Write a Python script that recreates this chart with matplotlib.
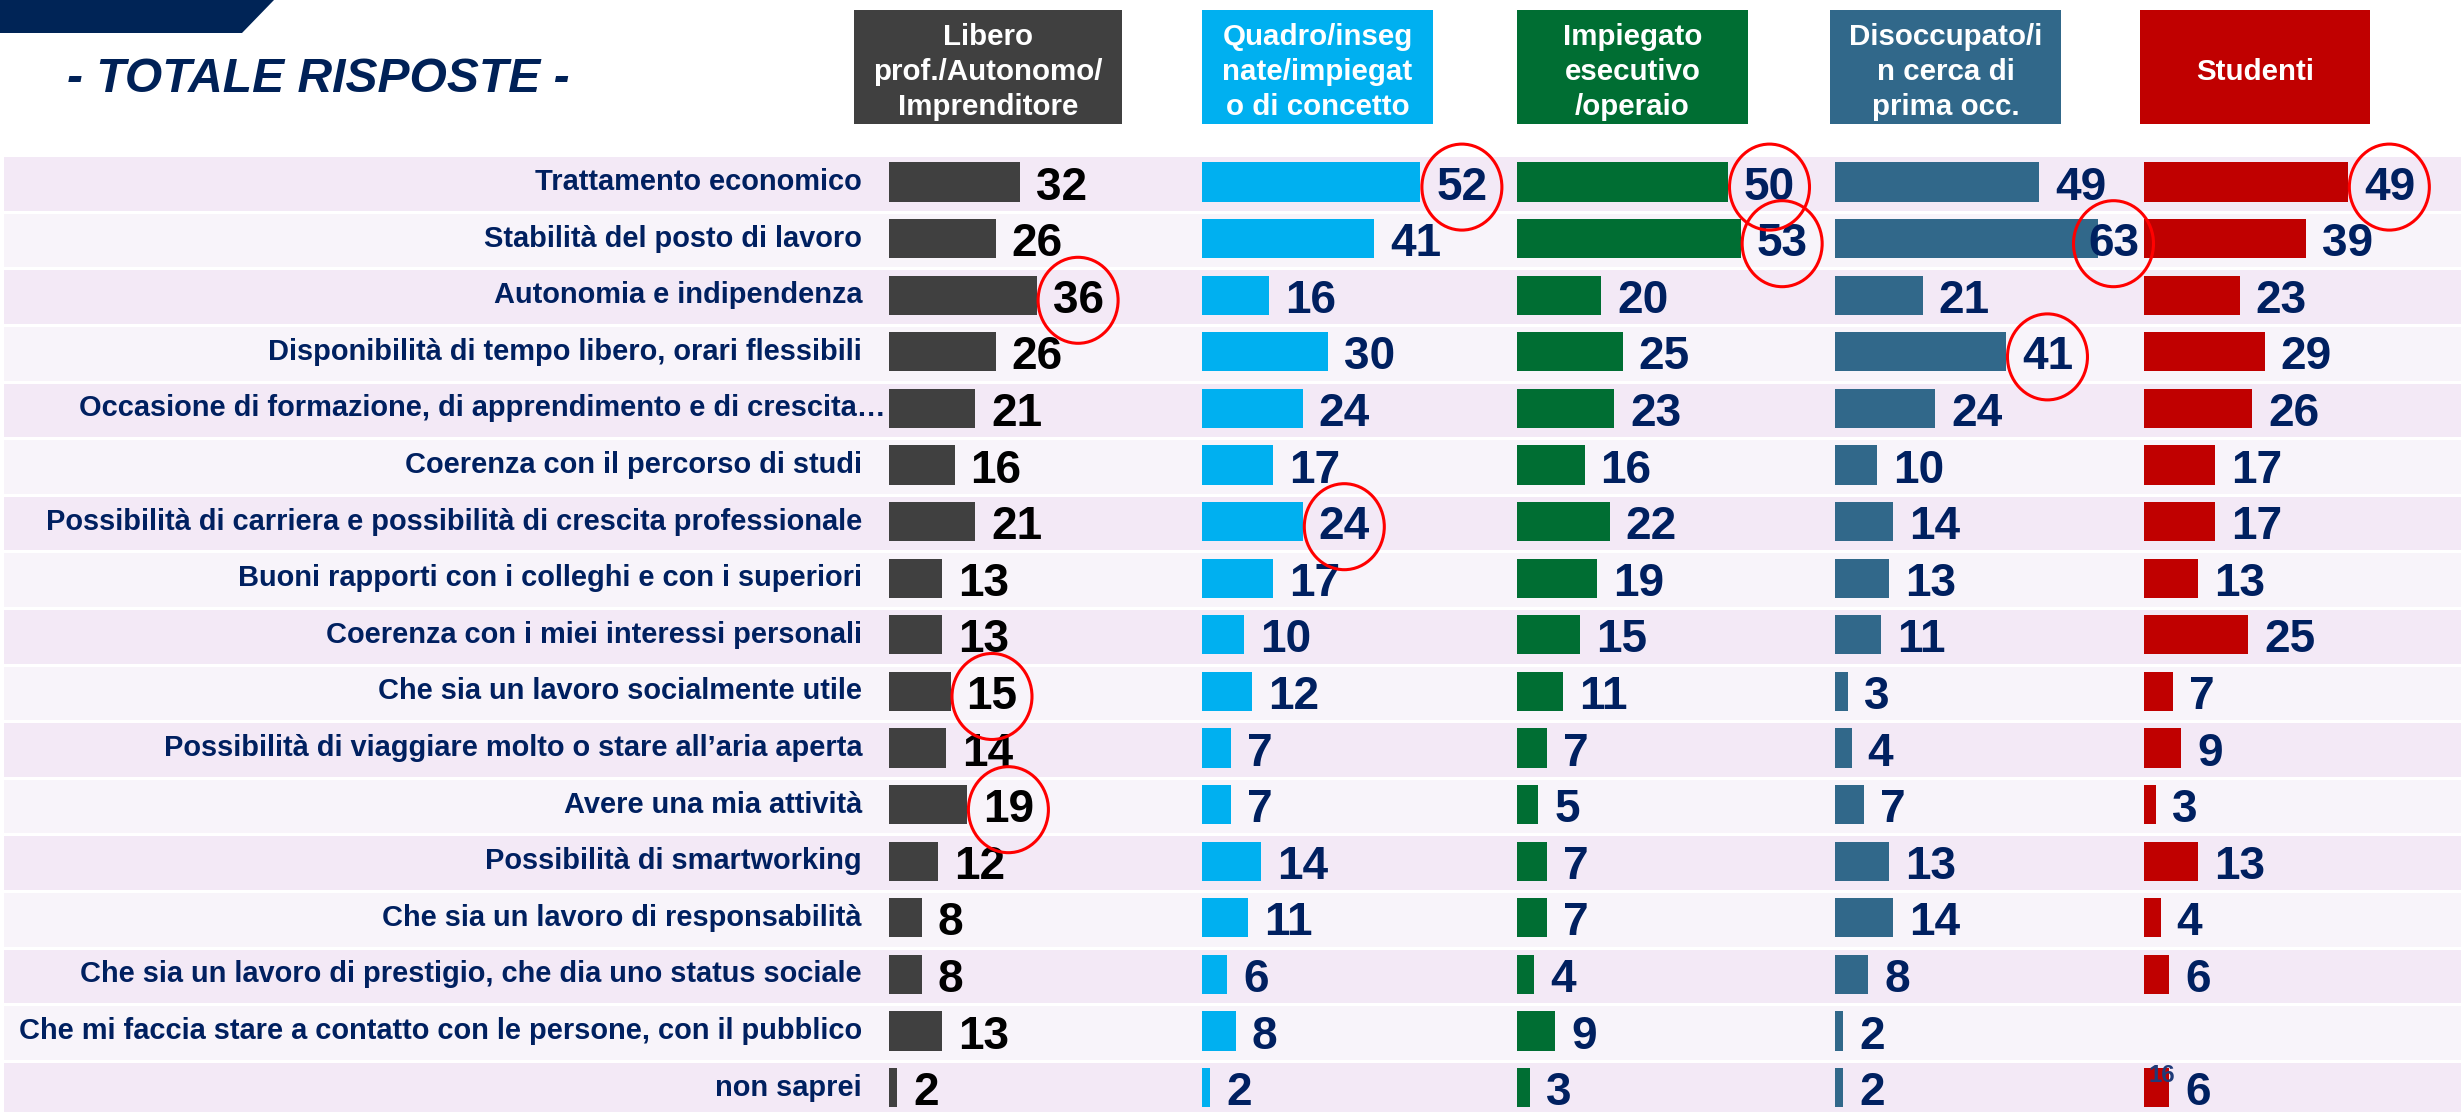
import matplotlib
matplotlib.use("Agg")
import matplotlib.pyplot as plt
from matplotlib.patches import Rectangle, Ellipse, Polygon

# ---------------- data ----------------
categories = [
    "Trattamento economico",
    "Stabilità del posto di lavoro",
    "Autonomia e indipendenza",
    "Disponibilità di tempo libero, orari flessibili",
    "Occasione di formazione, di apprendimento e di crescita…",
    "Coerenza con il percorso di studi",
    "Possibilità di carriera e possibilità di crescita professionale",
    "Buoni rapporti con i colleghi e con i superiori",
    "Coerenza con i miei interessi personali",
    "Che sia un lavoro socialmente utile",
    "Possibilità di viaggiare molto o stare all’aria aperta",
    "Avere una mia attività",
    "Possibilità di smartworking",
    "Che sia un lavoro di responsabilità",
    "Che sia un lavoro di prestigio, che dia uno status sociale",
    "Che mi faccia stare a contatto con le persone, con il pubblico",
    "non saprei",
]
libero      = [32, 26, 36, 26, 21, 16, 21, 13, 13, 15, 14, 19, 12, 8, 8, 13, 2]
quadro      = [52, 41, 16, 30, 24, 17, 24, 17, 10, 12, 7, 7, 14, 11, 6, 8, 2]
impiegato   = [50, 53, 20, 25, 23, 16, 22, 19, 15, 11, 7, 5, 7, 7, 4, 9, 3]
disoccupato = [49, 63, 21, 41, 24, 10, 14, 13, 11, 3, 4, 7, 13, 14, 8, 2, 2]
studenti    = [49, 39, 23, 29, 26, 17, 17, 13, 25, 7, 9, 3, 13, 4, 6, None, 6]
series = [libero, quadro, impiegato, disoccupato, studenti]
headers = [
    "Libero\nprof./Autonomo/\nImprenditore",
    "Quadro/inseg\nnate/impiegat\no di concetto",
    "Impiegato\nesecutivo\n/operaio",
    "Disoccupato/i\nn cerca di\nprima occ.",
    "Studenti",
]
# (series index, category index) of the circled values
highlighted = [(0, 2), (0, 9), (0, 11), (1, 0), (1, 6), (2, 0), (2, 1), (3, 1), (3, 3), (4, 0)]
title = "- TOTALE RISPOSTE -"
page_number = "16"

# ---------------- style / layout ----------------
W, H = 2461, 1112
ROW0, STEP = 182.0, 56.6
colors = ["#404040", "#00B0F0", "#006E33", "#31688A", "#C00000"]
value_colors = ["#000000", "#002060", "#002060", "#002060", "#002060"]
navy = "#002060"
col_x = [889, 1202, 1517, 1835, 2144]
col_scale = [4.1, 4.2, 4.22, 4.17, 4.16]   # px per unit
col_w = 300
box_x = [(854, 1122), (1202, 1433), (1517, 1748), (1830, 2061), (2140, 2370)]
box_y = (10, 124)
FONT = "Liberation Sans"
DIGIT_W = 25.5  # approx px width of one digit at the value-label size

def pt(px):
    return px * 72.0 / 100.0

fig = plt.figure(figsize=(W / 100, H / 100), dpi=100)
y_top = -ROW0 / STEP
y_bot = (H - ROW0) / STEP

# background (row units vertically, pixels horizontally)
ax_bg = fig.add_axes([0, 0, 1, 1], zorder=0)
ax_bg.set_xlim(0, W)
ax_bg.set_ylim(y_bot, y_top)
ax_bg.axis("off")
for i, cat in enumerate(categories):
    c = "#F3E9F6" if i % 2 == 0 else "#F8F4FA"
    ax_bg.add_patch(Rectangle((4, i + 0.035 - 0.473), W - 4, 0.946, color=c, lw=0, zorder=0))

fig.canvas.draw()
renderer = fig.canvas.get_renderer()
for i, cat in enumerate(categories):
    xr = 886 if cat.endswith("…") else 862
    fs = pt(29)
    t = ax_bg.text(xr, i + 0.14, cat, ha="right", va="baseline", fontsize=fs,
                   fontweight="bold", color=navy, family=FONT)
    wpx = t.get_window_extent(renderer).width
    avail = xr - 8
    if wpx > avail:
        t.set_fontsize(fs * avail / wpx)

# pixel overlay for header & title
ax_px = fig.add_axes([0, 0, 1, 1], zorder=1)
ax_px.set_xlim(0, W)
ax_px.set_ylim(H, 0)
ax_px.axis("off")
ax_px.patch.set_alpha(0)
ax_px.add_patch(Polygon([(0, 0), (274, 0), (242, 33), (0, 33)], closed=True,
                        color="#002456", lw=0))
ax_px.text(67, 92, title, ha="left", va="baseline", fontsize=pt(48),
           fontweight="bold", fontstyle="italic", color="#002157", family=FONT)
for k, (hdr, (x0, x1)) in enumerate(zip(headers, box_x)):
    ax_px.add_patch(Rectangle((x0, box_y[0]), x1 - x0, box_y[1] - box_y[0],
                              color=colors[k], lw=0))
    ax_px.text((x0 + x1) / 2, (box_y[0] + box_y[1]) / 2 + 5, hdr, ha="center",
               va="center", fontsize=pt(29.5), fontweight="bold", color="white",
               family=FONT, linespacing=1.33, multialignment="center")

# bars
gap_px = 16
for k, vals in enumerate(series):
    ax = fig.add_axes([col_x[k] / W, 0, col_w / W, 1], zorder=10 - k)
    ax.set_xlim(0, col_w / col_scale[k])
    ax.set_ylim(y_bot, y_top)
    ax.axis("off")
    ax.patch.set_alpha(0)
    idx = [i for i, v in enumerate(vals) if v is not None]
    ax.barh(idx, [vals[i] for i in idx], height=0.69, color=colors[k], lw=0)
    gap = gap_px / col_scale[k]
    label_x = {}
    for i in idx:
        lx = vals[i] + gap
        wlab = DIGIT_W * len(str(vals[i])) / col_scale[k]
        if k + 1 < len(col_x):
            limit = (col_x[k + 1] - 5 - col_x[k]) / col_scale[k]
            if lx + wlab > limit:
                lx = limit - wlab
        label_x[i] = (lx, wlab)
        ax.text(lx, i + 0.31, str(vals[i]), ha="left", va="baseline",
                fontsize=pt(46), fontweight="bold", color=value_colors[k],
                family=FONT, clip_on=False, zorder=6)
    for (s, i) in highlighted:
        if s != k:
            continue
        lx, wlab = label_x[i]
        cx = lx + wlab / 2
        ax.add_patch(Ellipse((cx, i + 0.09), 80 / col_scale[k], 86 / STEP,
                             fill=False, edgecolor="#FF0000", lw=2.2, clip_on=False,
                             zorder=7))

fig.text(2162 / W, 1 - 1076 / H, page_number, ha="center", va="center",
         fontsize=pt(24), fontweight="bold", color="#1F3A78", family=FONT,
         zorder=50)

fig.savefig("out.png", dpi=100)
